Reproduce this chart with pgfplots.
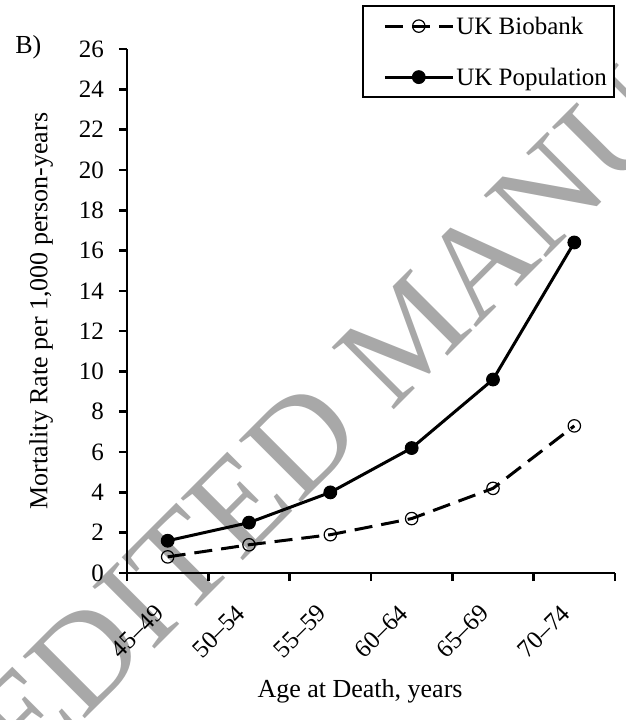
\documentclass[border=0pt]{standalone}
\usepackage{fontspec}
\setmainfont{Liberation Serif}
\usepackage{pgfplots}
\pgfplotsset{compat=1.18}
\definecolor{wm}{RGB}{168,168,168}
\begin{document}
\fontsize{13}{15}\selectfont
\begin{tikzpicture}
\useasboundingbox (-63.5pt,-73.5pt) rectangle (249.5pt,286.5pt);
\begin{scope}
\clip (-63.5pt,-73.5pt) rectangle (249.5pt,286.5pt);
\node[rotate=45, anchor=base west, inner sep=0pt, text=wm, font=\fontsize{67}{67}\selectfont] at (132pt,80pt) {MANUSCRIPT};
\node[rotate=45, anchor=base east, inner sep=0pt, text=wm, font=\fontsize{67}{67}\selectfont] at (120.2pt,68.2pt) {UNEDITED};
\end{scope}
\begin{axis}[
  scale only axis, width=244pt, height=262pt,
  at={(0,0)}, anchor=south west,
  xmin=-0.5, xmax=5.5, ymin=0, ymax=26,
  axis x line=bottom, axis y line=left,
  axis line style={line width=1.3pt, -},
  /pgf/number format/assume math mode=true,
  font=\fontsize{13}{15}\selectfont,
  tick label style={font=\fontsize{12.5}{14}\selectfont},
  ytick={0,2,...,26},
  xtick={0,...,5},
  xticklabels={\rotatebox{45}{45–49},\rotatebox{45}{50–54},\rotatebox{45}{55–59},\rotatebox{45}{60–64},\rotatebox{45}{65–69},\rotatebox{45}{70–74}},
  minor xtick={-0.5,0.5,...,5.5},
  tick align=outside,
  major tick length=4pt, minor tick length=4pt,
  tick style={line width=1.3pt, black},
  major x tick style={draw=none},
  minor x tick style={line width=1.3pt, black},
  yticklabel style={xshift=-3pt},
  xticklabel shift=11pt,
  xticklabel style={anchor=north east, inner sep=0pt, xshift=-1pt},
  ylabel={Mortality Rate per 1,000 person-years},
  ylabel style={at={(axis description cs:-0.176,0.5)}, anchor=center},
  xlabel={Age at Death, years},
  xlabel style={at={(axis description cs:0.4775,-0.2385)}, anchor=base},
  clip=false,
  legend cell align=left,
  legend image code/.code={\path (0pt,0pt); \draw[mark repeat=2,mark phase=2] plot coordinates {(7.5pt,0pt)(24.5pt,0pt)(41.5pt,0pt)};},
  legend style={at={(1,1)}, anchor=north east, yshift=22pt, draw=black, line width=1pt,
    inner xsep=2.5pt, inner ysep=3pt, row sep=11.4pt,
    nodes={inner sep=1pt, text height=10pt, text depth=2.1pt},
    font=\fontsize{12.5}{14}\selectfont},
]
\addplot[black, line width=1.5pt, dash pattern=on 9pt off 4.5pt, mark=o, mark size=3.1pt, mark options={solid, line width=0.6pt}]
  coordinates {(0,0.8)(1,1.4)(2,1.9)(3,2.7)(4,4.2)(5,7.3)};
\addlegendentry{UK Biobank}
\addplot[black, line width=1.5pt, mark=*, mark size=3.2pt, mark options={solid, line width=0.5pt}]
  coordinates {(0,1.6)(1,2.5)(2,4.0)(3,6.2)(4,9.6)(5,16.4)};
\addlegendentry{UK Population}
\end{axis}
\node[anchor=base west, inner sep=0pt] at (-56pt,260pt) {B)};
\end{tikzpicture}
\end{document}
